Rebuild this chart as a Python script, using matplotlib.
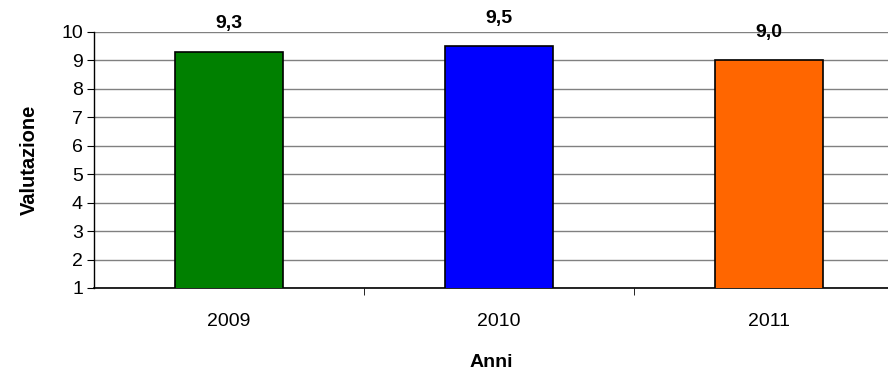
import matplotlib.pyplot as plt
import numpy as np

plt.rcParams['font.family'] = ['Liberation Sans', 'DejaVu Sans']

anni = ['2009', '2010', '2011']
valutazione = [9.3, 9.5, 9.0]
colori = ['#008000', '#0000FF', '#FF6600']

fig = plt.figure(figsize=(8.88, 3.71), dpi=100)
ax = fig.add_axes([94 / 888, 83 / 371, 794 / 888, 256 / 371])

x = np.arange(len(anni))
ax.bar(x, valutazione, width=0.4, color=colori, edgecolor='black', linewidth=1.2, zorder=3)

for xi, v in zip(x, valutazione):
    ax.annotate('{:.1f}'.format(v).replace('.', ','), (xi, v), xytext=(0, 14),
                textcoords='offset points', ha='center', va='bottom',
                fontsize=14, fontweight='bold', annotation_clip=False)

ax.set_xlim(-0.5, -0.5 + 794 / 270)
ax.set_ylim(1, 10)
ax.set_yticks(range(1, 11))
ax.yaxis.grid(True, color='#808080', linewidth=1)
ax.set_axisbelow(True)

ax.set_xticks(x)
ax.set_xticklabels(anni)
ax.set_xticks([0.5, 1.5], minor=True)
ax.tick_params(axis='x', which='major', length=0, labelsize=14, pad=18)
ax.tick_params(axis='x', which='minor', length=5, direction='out', color='black')
ax.tick_params(axis='y', length=5, direction='out', labelsize=14, pad=3)

for s in ['top', 'right']:
    ax.spines[s].set_visible(False)
ax.spines['left'].set_linewidth(1)
ax.spines['bottom'].set_linewidth(1.2)

ax.set_xlabel('Anni', fontsize=14, fontweight='bold', labelpad=17)
ax.set_ylabel('Valutazione', fontsize=14.5, fontweight='bold', labelpad=16)

fig.savefig('out.png', dpi=100)
